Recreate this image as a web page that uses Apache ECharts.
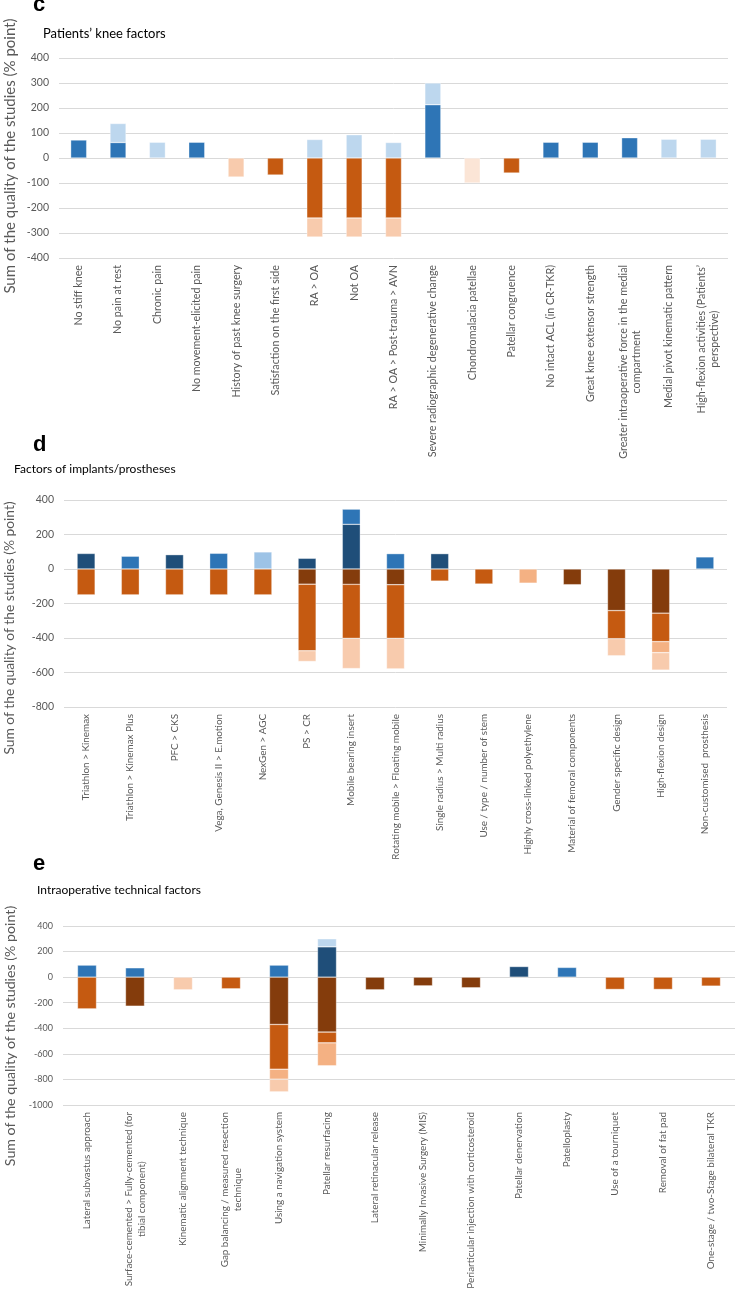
<!DOCTYPE html>
<html><head><meta charset="utf-8">
<script src="https://cdn.jsdelivr.net/npm/echarts@6/dist/echarts.min.js"></script>
<style>html,body{margin:0;padding:0;background:#fff}#chart{width:735px;height:1292px}</style>
</head><body><div id="chart"></div>
<script>
// ---------- Panel c: Patients' knee factors ----------
const cCategories = ['No stiff knee','No pain at rest','Chronic pain','No movement-elicited pain','History of past knee surgery','Satisfaction on the first side','RA > OA','Not OA','RA > OA > Post-trauma > AVN','Severe radiographic degenerative change','Chondromalacia patellae','Patellar congruence','No intact ACL (in CR-TKR)','Great knee extensor strength','Greater intraoperative force in the medial\ncompartment','Medial pivot kinematic pattern','High-flexion activities (Patients’\nperspective)'];
const cBlue       = [72, 62, null, 63, null, null, null, null, null, 213, null, null, 63, 63, 81, null, null];
const cLightBlue  = [null, 76, 63, null, null, null, 74, 93, 62, 87, null, null, null, null, null, 75, 75];
const cOrange     = [null, null, null, null, null, -68, -240, -240, -240, null, null, -60, null, null, null, null, null];
const cPeach      = [null, null, null, null, -76, null, -76, -76, -76, null, null, null, null, null, null, null, null];
const cPale       = [null, null, null, null, null, null, null, null, null, null, -100, null, null, null, null, null, null];
const cTicks = {min: -400, max: 400, interval: 100};

// ---------- Panel d: Factors of implants/prostheses ----------
const dCategories = ['Triathlon > Kinemax','Triathlon > Kinemax Plus','PFC > CKS','Vega, Genesis II > E.motion','NexGen > AGC','PS > CR','Mobile bearing insert','Rotating mobile > Floating mobile','Single radius > Multi radius','Use / type / number of stem','Highly cross-linked polyethylene','Material of femoral components','Gender specific design','High-flexion design','Non-customised  prosthesis'];
const dNavy       = [90, null, 83, null, null, 62, 259, null, 89, null, null, null, null, null, null];
const dBlue       = [null, 74, null, 91, null, null, 88, 89, null, null, null, null, null, null, 70];
const dLightBlue  = [null, null, null, null, 99, null, null, null, null, null, null, null, null, null, null];
const dBrown      = [null, null, null, null, null, -88, -89, -91, null, null, null, -91, -241, -256, null];
const dOrange     = [-150, -150, -150, -150, -150, -386, -313, -311, -70, -87, null, null, -163, -165, null];
const dSalmon     = [null, null, null, null, null, null, null, null, null, null, -82, null, null, -64, null];
const dPeach      = [null, null, null, null, null, -62, -175, -177, null, null, null, null, -99, -101, null];
const dTicks = {min: -800, max: 400, interval: 200};

// ---------- Panel e: Intraoperative technical factors ----------
const eCategories = ['Lateral subvastus approach','Surface-cemented > Fully-cemented (for\ntibial component)','Kinematic alignment technique','Gap balancing / measured resection\ntechnique','Using a navigation system','Patellar resurfacing','Lateral retinacular release','Minimally Invasive Surgery (MIS)','Periarticular injection with corticosteroid','Patellar denervation','Patelloplasty','Use of a tourniquet','Removal of fat pad','One-stage / two-Stage bilateral TKR'];
const eNavy       = [null, null, null, null, null, 237, null, null, null, 83, null, null, null, null];
const eBlue       = [94, 73, null, null, 94, null, null, null, null, null, 76, null, null, null];
const eLightBlue  = [null, null, null, null, null, 63, null, null, null, null, null, null, null, null];
const eBrown      = [null, -227, null, null, -370, -430, -99, -68, -83, null, null, null, null, null];
const eOrange     = [-248, null, null, -91, -350, -84, null, null, null, null, null, -96, -96, -70];
const eSalmon     = [null, null, null, null, -78, -179, null, null, null, null, null, null, null, null];
const ePeach      = [null, null, -99, null, -99, null, null, null, null, null, null, null, null, null];
const eTicks = {min: -1000, max: 400, interval: 200};

const titles = ['Patients’ knee factors', 'Factors of implants/prostheses', 'Intraoperative technical factors'];
const letters = ['c', 'd', 'e'];
const yName = 'Sum of the quality of the studies (% point)';

// ---------- styling ----------
const COL = {navy:'#1F4E79', blue:'#2E75B6', lightBlue:'#BDD7EE', midLightBlue:'#9DC3E6',
  brown:'#843C0C', orange:'#C55A11', salmon:'#F4B183', peach:'#F8CBAD', pale:'#FBE5D6'};
const FONT = 'Lato, "Open Sans", sans-serif';
const GREY = '#595959';

const panels = [
  {cats:cCategories, ticks:cTicks, grid:{left:59, right:7, top:58, height:200}, barWidth:16,
   xfs:10.7, yfs:10.5, nameFs:15, nameY:156, letterY:5, titleX:43, titleY:35, titleFs:13,
   layers:[['blue',cBlue],['lightBlue',cLightBlue],['orange',cOrange],['peach',cPeach],['pale',cPale]]},
  {cats:dCategories, ticks:dTicks, grid:{left:64, right:8, top:500, height:207}, barWidth:18,
   xfs:9.9, yfs:10.5, nameFs:13.8, nameY:628, letterY:445, titleX:14, titleY:471, titleFs:12,
   layers:[['navy',dNavy],['blue',dBlue],['midLightBlue',dLightBlue],['brown',dBrown],['orange',dOrange],['salmon',dSalmon],['peach',dPeach]]},
  {cats:eCategories, ticks:eTicks, grid:{left:63, right:0, top:926, height:179}, barWidth:19,
   xfs:9.9, yfs:9, nameFs:14.2, nameY:1036, letterY:864, titleX:37, titleY:892, titleFs:12,
   layers:[['navy',eNavy],['blue',eBlue],['lightBlue',eLightBlue],['brown',eBrown],['orange',eOrange],['salmon',eSalmon],['peach',ePeach]]}
];

const grid = [], xAxis = [], yAxis = [], series = [], graphic = [];
panels.forEach((p, i) => {
  grid.push(Object.assign({containLabel:false}, p.grid));
  xAxis.push({type:'category', gridIndex:i, data:p.cats,
    axisLine:{show:false}, axisTick:{show:false},
    axisLabel:{interval:0, rotate:90, margin:7, color:GREY, fontFamily:FONT, fontSize:p.xfs, lineHeight:13,
      formatter: v => v.split('\n').map(l => '{c|' + l + '}').join('\n'),
      rich:{c:{align:'center', color:GREY, fontFamily:FONT, fontSize:p.xfs, lineHeight:13}}}});
  yAxis.push({type:'value', gridIndex:i, min:p.ticks.min, max:p.ticks.max, interval:p.ticks.interval,
    axisLine:{show:false}, axisTick:{show:false},
    axisLabel:{color:GREY, fontFamily:FONT, fontSize:p.yfs, margin:10, formatter: v => String(v)},
    splitLine:{lineStyle:{color:'#D9D9D9', width:1}}});
  p.layers.forEach(([key, data]) => {
    series.push({type:'bar', name:key, xAxisIndex:i, yAxisIndex:i, stack:'s'+i, data:data,
      barWidth:p.barWidth, itemStyle:{color:COL[key], borderColor:'rgba(255,255,255,0.7)', borderWidth:0.5},
      emphasis:{disabled:true}, silent:true});
  });
  graphic.push({type:'text', x:10, y:p.nameY, rotation:Math.PI/2,
    style:{text:yName, fill:GREY, font:p.nameFs + 'px ' + FONT, align:'center', verticalAlign:'middle'}});
  graphic.push({type:'text', left:33, top:p.letterY - 11, style:{text:letters[i], fill:'#000',
    font:'bold 22px "Liberation Sans", Arial, sans-serif'}});
  graphic.push({type:'text', left:p.titleX, top:p.titleY - 8, style:{text:titles[i], fill:'#000',
    font:p.titleFs + 'px ' + FONT}});
});

const chart = echarts.init(document.getElementById('chart'), null, {renderer:'canvas'});
chart.setOption({animation:false, backgroundColor:'#fff', grid, xAxis, yAxis, series, graphic});
</script></body></html>
